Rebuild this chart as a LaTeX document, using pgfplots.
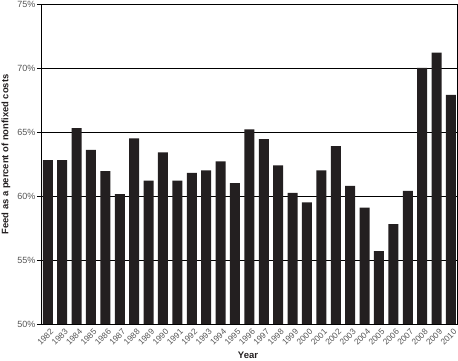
\documentclass[border=0pt]{standalone}
\usepackage{fontspec}
\setmainfont{Liberation Sans}
\usepackage{pgfplots}
\pgfplotsset{compat=1.18}
\definecolor{barc}{HTML}{231F20}
\definecolor{tickc}{HTML}{555555}
\begin{document}
\begin{tikzpicture}
\begin{axis}[
  scale only axis,
  width=416pt, height=320pt,
  ymin=50, ymax=75,
  ytick={50,55,60,65,70,75},
  yticklabel={\pgfmathprintnumber{\tick}\%},
  /pgf/number format/assume math mode=true,
  xmin=-0.47, xmax=28.42,
  xtick={0,...,28},
  xticklabels={1982,1983,1984,1985,1986,1987,1988,1989,1990,1991,1992,1993,1994,1995,1996,1997,1998,1999,2000,2001,2002,2003,2004,2005,2006,2007,2008,2009,2010},
  x tick label style={rotate=45, anchor=north east, font=\fontsize{8.4}{9}\selectfont, text=tickc, inner sep=0.5pt, xshift=2pt, yshift=-1pt},
  y tick label style={font=\fontsize{9}{10}\selectfont, text=tickc, inner sep=1.5pt},
  x tick style={draw=none},
  ytick style={black, line width=0.8pt},
  tick align=outside,
  major tick length=4pt,
  ymajorgrids,
  grid style={black, line width=0.8pt},
  axis line style={black, line width=0.9pt},
  xlabel={\textbf{Year}},
  ylabel={\textbf{Feed as a percent of nonfixed costs}},
  xlabel style={font=\fontsize{9.5}{11}\selectfont, at={(axis description cs:0.4976,-0.097)}, anchor=center, color=barc},
  ylabel style={font=\fontsize{9.4}{11}\selectfont, at={(axis description cs:-0.084,0.53)}, anchor=center, color=barc},
]
\addplot[ybar, bar width=10pt, fill=barc, draw=none, bar shift=0pt] coordinates {
(0,62.8) (1,62.8) (2,65.3) (3,63.6) (4,61.95) (5,60.15) (6,64.5) (7,61.2) (8,63.4) (9,61.2)
(10,61.8) (11,62.0) (12,62.7) (13,61.0) (14,65.2) (15,64.45) (16,62.4) (17,60.25) (18,59.5) (19,62.0)
(20,63.9) (21,60.8) (22,59.1) (23,55.7) (24,57.8) (25,60.4) (26,70.0) (27,71.2) (28,67.9)
};
\end{axis}
\pgfresetboundingbox
\useasboundingbox ([shift={(-41pt,-37pt)}]current axis.south west) rectangle ([shift={(1pt,4pt)}]current axis.north east);
\end{tikzpicture}
\end{document}
